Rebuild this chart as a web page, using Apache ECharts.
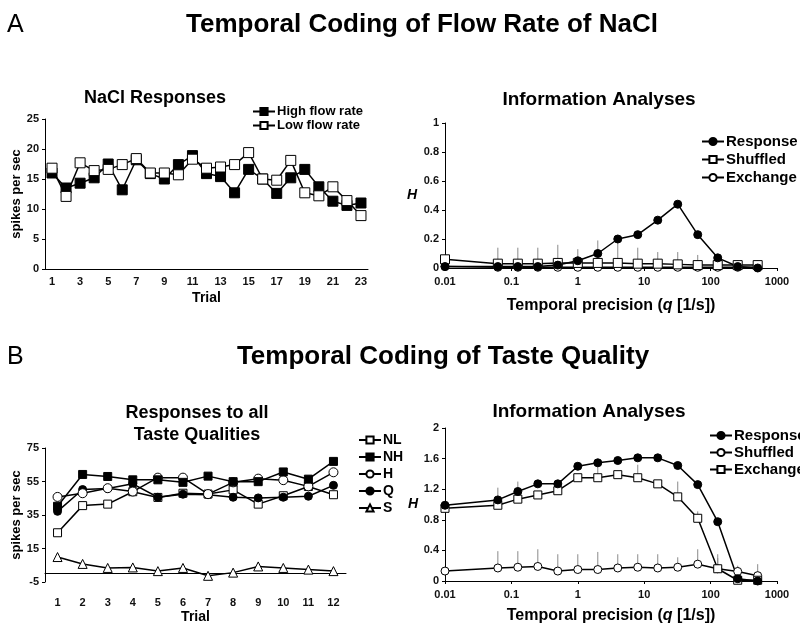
<!DOCTYPE html>
<html>
<head>
<meta charset="utf-8">
<script src="https://cdn.jsdelivr.net/npm/echarts@6/dist/echarts.min.js"></script>
<style>
  html, body { margin: 0; padding: 0; background: #fff; }
  #main { width: 800px; height: 625px; }
</style>
</head>
<body>
<div id="main"></div>
<script>
// panel A, left: NaCl responses per trial
const trialsA = ['1','2','3','4','5','6','7','8','9','10','11','12','13','14','15','16','17','18','19','20','21','22','23'];
const highFlow = [16, 13.5, 14.3, 15.2, 17.5, 13.2, 18.2, 15.9, 15, 17.4, 18.9, 15.9, 15.4, 12.7, 16.6, 15, 12.6, 15.2, 16.6, 13.7, 11.3, 10.6, 11];
const lowFlow = [16.8, 12.1, 17.7, 16.4, 16.6, 17.4, 18.4, 16, 16, 15.7, 18.3, 16.8, 17, 17.4, 19.4, 15, 14.8, 18.1, 12.7, 12.2, 13.7, 11.4, 8.9];

// temporal precision values (q), shared by both information panels
const qValues = [0.01, 0.0625, 0.125, 0.25, 0.5, 1, 2, 4, 8, 16, 32, 64, 128, 256, 512];

// panel A, right
const naclResponse = [0.01, 0.01, 0.01, 0.01, 0.02, 0.05, 0.10, 0.20, 0.23, 0.33, 0.44, 0.23, 0.07, 0.01, 0.0];
const naclShuffled = [0.06, 0.03, 0.03, 0.03, 0.035, 0.035, 0.035, 0.035, 0.03, 0.03, 0.025, 0.02, 0.02, 0.02, 0.02];
const naclExchange = [0.01, 0.005, 0.005, 0.005, 0.005, 0.005, 0.005, 0.005, 0.005, 0.005, 0.005, 0.005, 0.005, 0.005, 0.005];
const naclErrTop = [null, 0.14, 0.14, 0.14, 0.16, 0.13, 0.19, 0.18, 0.14, 0.11, 0.11, 0.09, 0.07, 0.055, 0.055];

// panel B, left: responses to all taste qualities
const trialsB = ['1','2','3','4','5','6','7','8','9','10','11','12'];
const tasteNL = [24.4, 40.6, 41.5, 48.9, 45.5, 48, 47.5, 50, 41.5, 46.5, 52, 47.1];
const tasteNH = [40.2, 59.2, 58, 56, 56, 54.5, 58.2, 54.9, 54.9, 60.7, 56.4, 67];
const tasteH = [45.8, 48, 51, 49, 57.3, 57.3, 47.5, 54.5, 56.7, 55.8, 52.1, 60.5];
const tasteQ = [37.2, 50.2, 50.8, 53.6, 45.6, 47.4, 47.1, 45.6, 45.2, 45.6, 46.2, 52.7];
const tasteS = [9.9, 5.8, 3.4, 3.7, 1.5, 3.4, -1.3, 0.6, 4.3, 3.4, 2.4, 1.5];

// panel B, right
const tasteResponse = [0.99, 1.06, 1.17, 1.27, 1.27, 1.50, 1.545, 1.575, 1.61, 1.61, 1.51, 1.26, 0.775, 0.03, 0.0];
const tasteShuffled = [0.13, 0.17, 0.18, 0.19, 0.13, 0.15, 0.15, 0.17, 0.18, 0.17, 0.18, 0.22, 0.16, 0.125, 0.07];
const tasteExchange = [0.95, 0.99, 1.07, 1.125, 1.18, 1.35, 1.35, 1.39, 1.35, 1.27, 1.10, 0.82, 0.16, 0.01, 0.01];
const shuffledErrTop = [null, 0.39, 0.39, 0.415, 0.35, 0.35, 0.38, 0.35, 0.35, 0.35, 0.31, 0.415, 0.35, 0.2, 0.22];
const exchangeErrTop = [null, 1.22, 1.30, null, 1.30, null, 1.50, null, 1.52, 1.32, 1.30, 0.91, 0.30, null, null];

const FONT = 'Liberation Sans, Arial, sans-serif';

function pairs(xs, ys) {
  return xs.map((x, i) => [x, ys[i]]);
}
function errData(xs, lo, hi) {
  const out = [];
  xs.forEach((x, i) => { if (hi[i] != null) out.push([x, lo[i], hi[i]]); });
  return out;
}
function errBars(name, xi, yi, data) {
  return {
    name: name, type: 'custom', xAxisIndex: xi, yAxisIndex: yi, z: 1,
    encode: { x: 0, y: [1, 2] },
    silent: true,
    renderItem: function (params, api) {
      const p0 = api.coord([api.value(0), api.value(1)]);
      const p1 = api.coord([api.value(0), api.value(2)]);
      return {
        type: 'line',
        shape: { x1: p0[0], y1: p0[1], x2: p1[0], y2: p1[1] },
        style: { stroke: '#8a8a8a', lineWidth: 1 }
      };
    },
    data: data
  };
}
function lineSeries(name, xi, yi, data, symbol, size, filled) {
  return {
    name: name, type: 'line', xAxisIndex: xi, yAxisIndex: yi, z: 3,
    symbol: symbol, symbolSize: size,
    showAllSymbol: true,
    lineStyle: { color: '#000', width: 1.5 },
    itemStyle: { color: filled ? '#000' : '#fff', borderColor: '#000', borderWidth: 1 },
    emphasis: { disabled: true },
    data: data
  };
}
function legendBox(names, left, top, size, gap) {
  return {
    data: names, orient: 'vertical', left: left, top: top, padding: 0,
    itemWidth: 22, itemHeight: 9, itemGap: gap, selectedMode: false,
    textStyle: { color: '#000', fontFamily: FONT, fontWeight: 'bold', fontSize: size, padding: [0, 0, 0, -3] }
  };
}

const logLabel = function (v) { return String(Number(v.toPrecision(6))); };
const tickLabel = { color: '#111', fontFamily: FONT, fontWeight: 'bold', fontSize: 11 };
const axisLine = { lineStyle: { color: '#000', width: 1 } };
const axisTick = { length: 3, lineStyle: { color: '#000' } };
const nameStyle = { color: '#000', fontFamily: FONT, fontWeight: 'bold', fontSize: 14 };
const precisionName = '{n|Temporal precision (}{i|q}{n| [1/s])}';
const precisionRich = {
  n: { fontFamily: FONT, fontWeight: 'bold', fontSize: 16, color: '#000' },
  i: { fontFamily: FONT, fontWeight: 'bold', fontStyle: 'italic', fontSize: 16, color: '#000' }
};

function txt(x, y, text, size, weight, align) {
  return {
    type: 'text', x: x, y: y, silent: true,
    style: {
      text: text, fill: '#000', font: (weight || 'bold') + ' ' + size + 'px ' + FONT,
      textAlign: align || 'center', textVerticalAlign: 'middle'
    }
  };
}

const chart = echarts.init(document.getElementById('main'));
chart.setOption({
  backgroundColor: '#fff',
  animation: false,
  graphic: [
    txt(7, 25, 'A', 25, 'normal', 'left'),
    txt(422, 25, 'Temporal Coding of Flow Rate of NaCl', 26),
    txt(155, 98, 'NaCl Responses', 18),
    txt(599, 100, 'Information Analyses', 19),
    txt(7, 357, 'B', 25, 'normal', 'left'),
    txt(443, 357, 'Temporal Coding of Taste Quality', 26),
    txt(197, 413, 'Responses to all', 18),
    txt(197, 435, 'Taste Qualities', 18),
    txt(589, 412, 'Information Analyses', 19)
  ],
  grid: [
    { left: 45, right: 432, top: 119, bottom: 356 },
    { left: 445, right: 23, top: 123, bottom: 357 },
    { left: 45, right: 454, top: 448, bottom: 33 },
    { left: 445, right: 23, top: 428, bottom: 43 }
  ],
  legend: [
    legendBox(['High flow rate', 'Low flow rate'], 252, 105, 13, 1),
    legendBox(['Response', 'Shuffled', 'Exchange'], 701, 134, 15, 3),
    legendBox(['NL', 'NH', 'H', 'Q', 'S'], 358, 433, 14, 3),
    legendBox(['Response ', 'Shuffled ', 'Exchange '], 709, 428, 15, 2)
  ],
  xAxis: [
    {
      gridIndex: 0, type: 'category', data: trialsA, boundaryGap: true,
      axisLine: axisLine, axisTick: Object.assign({ alignWithLabel: true, interval: 0 }, axisTick),
      axisLabel: Object.assign({ interval: 1, margin: 7 }, tickLabel),
      name: 'Trial', nameLocation: 'middle', nameGap: 22, nameTextStyle: nameStyle
    },
    {
      gridIndex: 1, type: 'log', logBase: 10, min: 0.01, max: 1000,
      axisLine: axisLine, axisTick: axisTick, splitLine: { show: false },
      axisLabel: Object.assign({ formatter: logLabel, margin: 8 }, tickLabel),
      name: precisionName, nameLocation: 'middle', nameGap: 30,
      nameTextStyle: { rich: precisionRich }
    },
    {
      gridIndex: 2, type: 'category', data: trialsB, boundaryGap: true,
      axisLine: Object.assign({ onZero: true }, axisLine),
      axisTick: Object.assign({ alignWithLabel: true, interval: 0 }, axisTick),
      axisLabel: Object.assign({ interval: 0, margin: 15 }, tickLabel),
      name: 'Trial', nameLocation: 'middle', nameGap: 28, nameTextStyle: nameStyle
    },
    {
      gridIndex: 3, type: 'log', logBase: 10, min: 0.01, max: 1000,
      axisLine: axisLine, axisTick: axisTick, splitLine: { show: false },
      axisLabel: Object.assign({ formatter: logLabel, margin: 8 }, tickLabel),
      name: precisionName, nameLocation: 'middle', nameGap: 27,
      nameTextStyle: { rich: precisionRich }
    }
  ],
  yAxis: [
    {
      gridIndex: 0, type: 'value', min: 0, max: 25, interval: 5,
      axisLine: Object.assign({ show: true }, axisLine), axisTick: Object.assign({ show: true }, axisTick),
      splitLine: { show: false }, axisLabel: Object.assign({ margin: 6 }, tickLabel),
      name: 'spikes per sec', nameLocation: 'middle', nameGap: 22, nameTextStyle: Object.assign({}, nameStyle, { fontSize: 13 })
    },
    {
      gridIndex: 1, type: 'value', min: 0, max: 1, interval: 0.2,
      axisLine: Object.assign({ show: true }, axisLine), axisTick: Object.assign({ show: true }, axisTick),
      splitLine: { show: false }, axisLabel: Object.assign({ margin: 6 }, tickLabel),
      name: 'H', nameLocation: 'middle', nameRotate: 0, nameGap: 28,
      nameTextStyle: Object.assign({}, nameStyle, { fontStyle: 'italic', fontSize: 14 })
    },
    {
      gridIndex: 2, type: 'value', min: -5, max: 75, interval: 20,
      axisLine: Object.assign({ show: true }, axisLine), axisTick: Object.assign({ show: true }, axisTick),
      splitLine: { show: false }, axisLabel: Object.assign({ margin: 6 }, tickLabel),
      name: 'spikes per sec', nameLocation: 'middle', nameGap: 22, nameTextStyle: Object.assign({}, nameStyle, { fontSize: 13 })
    },
    {
      gridIndex: 3, type: 'value', min: 0, max: 2, interval: 0.4,
      axisLine: Object.assign({ show: true }, axisLine), axisTick: Object.assign({ show: true }, axisTick),
      splitLine: { show: false }, axisLabel: Object.assign({ margin: 6 }, tickLabel),
      name: 'H', nameLocation: 'middle', nameRotate: 0, nameGap: 27,
      nameTextStyle: Object.assign({}, nameStyle, { fontStyle: 'italic', fontSize: 14 })
    }
  ],
  series: [
    lineSeries('High flow rate', 0, 0, highFlow, 'rect', 10, true),
    lineSeries('Low flow rate', 0, 0, lowFlow, 'rect', 10, false),

    errBars('nacl-err', 1, 1, errData(qValues, naclShuffled, naclErrTop)),
    lineSeries('Exchange', 1, 1, pairs(qValues, naclExchange), 'circle', 8, false),
    lineSeries('Shuffled', 1, 1, pairs(qValues, naclShuffled), 'rect', 9, false),
    lineSeries('Response', 1, 1, pairs(qValues, naclResponse), 'circle', 8, true),

    lineSeries('S', 2, 2, tasteS, 'triangle', 9, false),
    lineSeries('NL', 2, 2, tasteNL, 'rect', 8, false),
    lineSeries('Q', 2, 2, tasteQ, 'circle', 8, true),
    lineSeries('H', 2, 2, tasteH, 'circle', 9, false),
    lineSeries('NH', 2, 2, tasteNH, 'rect', 8, true),

    errBars('shuffled-err', 3, 3, errData(qValues, tasteShuffled, shuffledErrTop)),
    errBars('exchange-err', 3, 3, errData(qValues, tasteExchange, exchangeErrTop)),
    lineSeries('Shuffled ', 3, 3, pairs(qValues, tasteShuffled), 'circle', 8, false),
    lineSeries('Exchange ', 3, 3, pairs(qValues, tasteExchange), 'rect', 8, false),
    lineSeries('Response ', 3, 3, pairs(qValues, tasteResponse), 'circle', 8, true)
  ]
});
</script>
</body>
</html>
